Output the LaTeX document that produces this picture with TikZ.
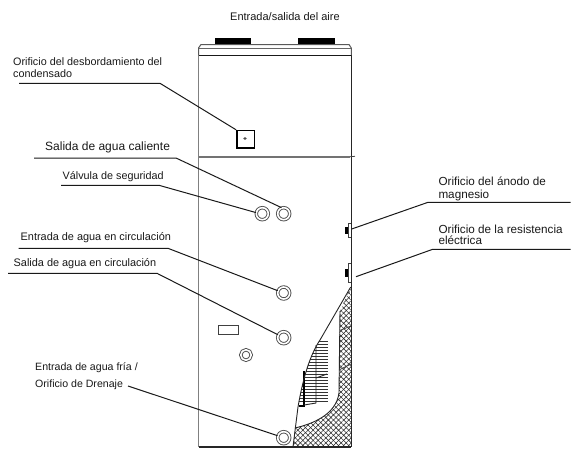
\documentclass[tikz,border=0pt]{standalone}
\usepackage{fontspec}
\setmainfont{Liberation Sans}
\usetikzlibrary{patterns.meta}
\begin{document}
\begin{tikzpicture}[x=1pt,y=-1pt,
  lbl/.style={anchor=base west,inner sep=0pt,text=black!90,font=\fontsize{#1}{#1}\selectfont},
  lbl/.default=10.8,
  lead/.style={line width=1pt,black!90},
  body/.style={line width=1pt,black!85},
  wall/.style={line width=1.1pt,black!50},
  port/.style={circle,draw=black!70,fill=white,line width=0.9pt,double=white,double distance=1.6pt,minimum size=12pt,inner sep=0pt},
  box/.style={draw=black,line width=1.5pt,inner sep=0pt},
  plug/.style={fill=black,inner sep=0pt,minimum width=3.5pt},
  hatchline/.style={line width=0.9pt,black!80}]
\useasboundingbox (0,0) rectangle (571,448);
\fill[white] (0,0) rectangle (571,448);
% hatched insulation
\path[pattern={Lines[angle=45,distance=3.6pt,line width=0.55pt]},pattern color=black!85]
  (350.7,287) -- (351,447) -- (293,447) -- (295,428) .. controls (312,424) and (336,415) .. (339,393) -- (340,311) -- cycle;
\path[pattern={Lines[angle=-45,distance=3.6pt,line width=0.55pt]},pattern color=black!85]
  (350.7,287) -- (351,447) -- (293,447) -- (295,428) .. controls (312,424) and (336,415) .. (339,393) -- (340,311) -- cycle;
% coil
\begin{scope}
  \clip (320,340) .. controls (310,355) and (303,378) .. (298,407) -- (330,407) -- (330,338) -- cycle;
  \foreach \yy in {341,344,...,402} \draw[hatchline] (295,\yy) -- (327.6,\yy);
\end{scope}
\draw[line width=1.6pt,black] (304,371) -- (304,406) -- (298.5,406);
\draw[line width=0.9pt,black!85] (316,345) -- (316,403) -- (304,405);
\draw[line width=0.9pt,black!85] (316,378) -- (327,374);
\draw[line width=0.8pt,black!75] (339,370) -- (351,364);
\draw[line width=0.8pt,black!75] (341,330) -- (351,326);
% cut line
\draw[line width=0.9pt,black!85] (350.7,287) -- (320,340) .. controls (310,355) and (303,378) .. (298,407) -- (293,447);
\draw[line width=0.9pt,black!85] (340,311) -- (339,393) .. controls (336,415) and (312,424) .. (295,428);
% body
\draw[wall] (198.5,55) -- (198.5,447);
\draw[body,line width=1.2pt] (198.5,447) -- (351,447);
\draw[body,line width=1.1pt] (351.3,55) -- (351.3,447);
\draw[line width=1pt,black!65] (198.5,55) -- (198.5,48) -- (201,44.5) -- (349,44.5) -- (351.3,48) -- (351.3,55);
\draw[line width=0.8pt,black!60] (198.5,48) -- (351.3,48);
\draw[line width=1.5pt,black!90] (198.5,55.7) -- (351.3,55.7);
\draw[line width=2pt,black!55] (198.5,156.7) -- (350,156.7);
\draw[line width=0.8pt,black!75] (350,156.7) -- (355,156.3);
\fill[black] (214.7,38.3) rectangle (251.3,44);
\fill[black] (298.3,38.3) rectangle (334.7,44);
% side plugs
\draw[line width=0.8pt,black!75] (351,223) -- (348,223) -- (348,237) -- (351,237);
\draw[line width=0.8pt,black!75] (351,263) -- (348,263) -- (348,282) -- (351,282);
\node[plug,minimum height=7pt] (anodeplug) at (346.3,230.5) {};
\node[plug,minimum height=8pt] (heaterplug) at (346.3,273) {};
\coordinate (anodeend) at (351.7,229);
\coordinate (heaterend) at (356,276.7);
% square
\node[box,minimum width=17.5pt,minimum height=17.5pt] (overflow) at (245.6,139.3) {};
\draw[line width=0.6pt,black!85] (245,138.5) ellipse (1.2pt and 0.9pt);
% rectangle
\node[draw=black!75,line width=0.8pt,minimum width=20.4pt,minimum height=9pt,inner sep=0pt] (plate) at (228.5,329.5) {};
% ports
\node[port] (valve) at (262.3,213.7) {};
\node[port] (hot) at (283.7,213.7) {};
\node[port] (inlet) at (283.7,293) {};
\node[port] (outlet) at (283.7,337.7) {};
\node[port,minimum size=10.5pt] (small) at (246,355) {};
\node[port] (cold) at (283.7,437.7) {};
% labels
\node[lbl=11] (air) at (230,20) {Entrada/salida del aire};
\node[lbl=10.8] (t1a) at (13,65) {Orificio del desbordamiento del};
\node[lbl=10.8] (t1b) at (13,77.7) {condensado};
\node[lbl=12] (t2) at (45,150) {Salida de agua caliente};
\node[lbl=10.8] (t3) at (62.5,179.3) {Válvula de seguridad};
\node[lbl=10.9] (t4) at (20.5,240.7) {Entrada de agua en circulación};
\node[lbl=10.9] (t5) at (13.5,266.7) {Salida de agua en circulación};
\node[lbl=10.6] (t6a) at (35,370.7) {Entrada de agua fría /};
\node[lbl=10.6] (t6b) at (35,387.7) {Orificio de Drenaje};
\node[lbl=11.7] (t7a) at (438.3,185) {Orificio del ánodo de};
\node[lbl=11.7] (t7b) at (438.3,198) {magnesio};
\node[lbl=11.7] (t8a) at (438.3,233) {Orificio de la resistencia};
\node[lbl=11.7] (t8b) at (438.3,244) {eléctrica};
% leaders
\coordinate (l1a) at (19,83.3);  \coordinate (l1b) at (160,83.3);
\coordinate (l2a) at (34,158);   \coordinate (l2b) at (176,158);
\coordinate (l3a) at (61,185.3); \coordinate (l3b) at (159,185.3);
\coordinate (l4a) at (18.5,248.3); \coordinate (l4b) at (168,248.3);
\coordinate (l5a) at (8,273.3);  \coordinate (l5b) at (157,273.3);
\coordinate (l6) at (128,386);
\coordinate (l7a) at (570.7,202.3); \coordinate (l7b) at (428,202.3);
\coordinate (l8a) at (570.7,249.3); \coordinate (l8b) at (432.7,249.3);
\draw[lead] (l1a) -- (l1b) -- (overflow.north west);
\draw[lead] (l2a) -- (l2b) -- (hot.110);
\draw[lead] (l3a) -- (l3b) -- (valve.170);
\draw[lead] (l4a) -- (l4b) -- (inlet);
\draw[lead] (l5a) -- (l5b) -- (outlet);
\draw[lead] (l6) -- (cold);
\draw[lead] (l7a) -- (l7b) -- (anodeend);
\draw[lead] (l8a) -- (l8b) -- (heaterend);
\end{tikzpicture}
\end{document}
